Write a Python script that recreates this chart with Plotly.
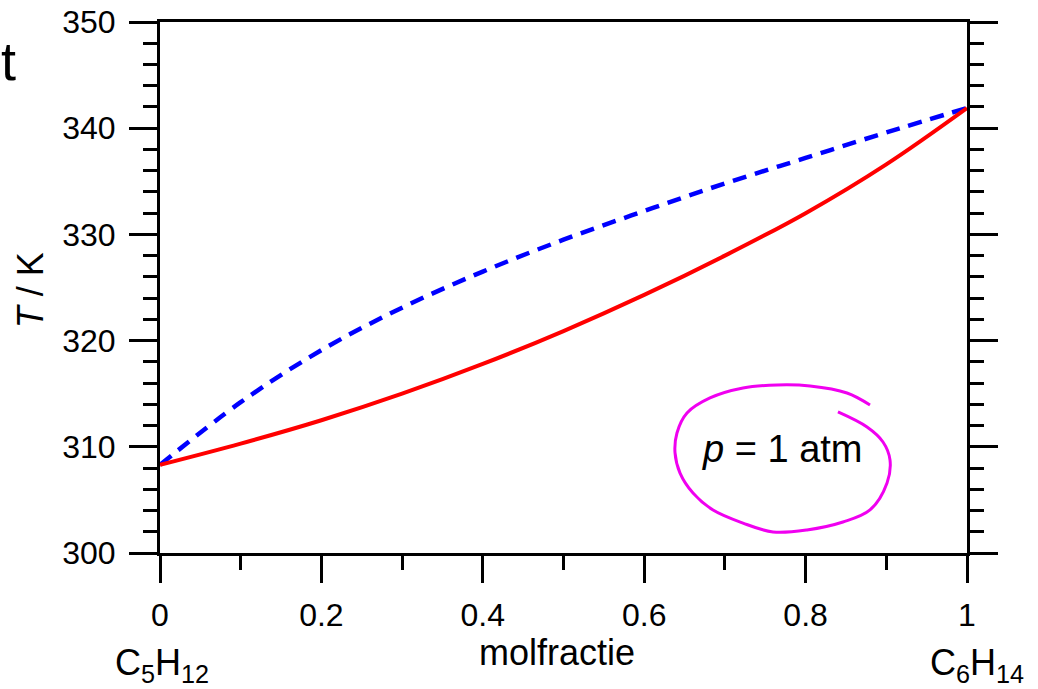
import plotly.graph_objects as go

# Data
x_frac = [0.0, 0.1, 0.2, 0.3, 0.4, 0.5, 0.6, 0.7, 0.8, 0.9, 1.0]
T_liquid = [308.3, 310.3, 312.5, 315.0, 317.8, 320.9, 324.3, 328.0, 332.0, 336.6, 341.9]
T_vapour = [308.3, 314.2, 319.1, 323.1, 326.5, 329.5, 332.2, 334.8, 337.2, 339.6, 341.9]

x_ticks = [0, 0.2, 0.4, 0.6, 0.8, 1]
x_ticktext = ["0", "0.2", "0.4", "0.6", "0.8", "1"]
y_ticks = [300, 310, 320, 330, 340, 350]

# Hand-drawn loop around the pressure label (data coordinates)
loop_x = [0.8798, 0.8513, 0.8055, 0.7646, 0.7224, 0.6815, 0.6530, 0.6406, 0.6382, 0.6444,
          0.6605, 0.6853, 0.7224, 0.7596, 0.8017, 0.8463, 0.8798, 0.9009, 0.9046, 0.8959,
          0.8761, 0.8401]
loop_T = [313.94, 315.07, 315.73, 315.82, 315.54, 314.60, 313.18, 311.30, 309.42, 307.53,
          305.65, 304.05, 302.82, 301.98, 302.17, 302.92, 304.05, 306.59, 308.76, 310.45,
          311.86, 313.28]

FONT = "Arial, Liberation Sans, sans-serif"

fig = go.Figure()
fig.add_trace(go.Scatter(x=x_frac, y=T_vapour, mode="lines", line_shape="spline",
                         line=dict(color="#0000ff", width=4.5, dash="14px,9px"),
                         showlegend=False, hoverinfo="skip"))
fig.add_trace(go.Scatter(x=x_frac, y=T_liquid, mode="lines", line_shape="spline",
                         line=dict(color="#ff0000", width=4),
                         showlegend=False, hoverinfo="skip"))
fig.add_trace(go.Scatter(x=loop_x, y=loop_T, mode="lines", line_shape="spline",
                         line=dict(color="#f000f0", width=3),
                         showlegend=False, hoverinfo="skip", cliponaxis=False))

fig.update_layout(
    width=1038, height=689,
    margin=dict(l=160, r=71, t=22, b=136, autoexpand=False),
    paper_bgcolor="white", plot_bgcolor="white",
    font=dict(family=FONT, size=32, color="black"),
    xaxis=dict(range=[0, 1], tickvals=x_ticks, ticktext=x_ticktext,
               showgrid=False, zeroline=False, automargin=False,
               showline=True, linecolor="black", linewidth=3, mirror=True,
               ticks="outside", ticklen=27, tickwidth=3, tickcolor="black",
               ticklabelstandoff=5, tickfont=dict(size=32), ticklabeloverflow="allow",
               minor=dict(dtick=0.1, ticks="outside", ticklen=14, tickwidth=3,
                          tickcolor="black", showgrid=False)),
    yaxis=dict(range=[300, 350], tickvals=y_ticks,
               showgrid=False, zeroline=False, automargin=False,
               showline=True, linecolor="black", linewidth=3, mirror="ticks",
               ticks="outside", ticklen=28, tickwidth=3, tickcolor="black",
               ticklabelstandoff=7, tickfont=dict(size=32), ticklabeloverflow="allow",
               minor=dict(dtick=2, ticks="outside", ticklen=14, tickwidth=3,
                          tickcolor="black", showgrid=False)),
    annotations=[
        dict(text="<i>T</i> / K", xref="paper", yref="paper", x=0, y=0.495,
             xshift=-130, xanchor="center", yanchor="middle", textangle=-90,
             showarrow=False, font=dict(size=36)),
        dict(text="molfractie", xref="paper", yref="paper", x=0.492, y=0,
             yshift=-99, xanchor="center", yanchor="middle",
             showarrow=False, font=dict(size=36)),
        dict(text="C<sub>5</sub>H<sub>12</sub>", xref="paper", yref="paper", x=0.0025, y=0,
             yshift=-112, xanchor="center", yanchor="middle",
             showarrow=False, font=dict(size=36)),
        dict(text="C<sub>6</sub>H<sub>14</sub>", xref="paper", yref="paper", x=1.0124, y=0,
             yshift=-112, xanchor="center", yanchor="middle",
             showarrow=False, font=dict(size=36)),
        dict(text="<i>p</i> = 1 atm", xref="x", yref="y", x=0.7704, y=309.8,
             xanchor="center", yanchor="middle",
             showarrow=False, font=dict(size=38)),
        dict(text="t", xref="paper", yref="paper", x=0, y=1, xshift=-151.5, yshift=-39,
             xanchor="center", yanchor="middle", showarrow=False, font=dict(size=54)),
    ],
)

fig.write_html("out.html", config={"displayModeBar": False},
               post_script="document.body.style.margin='0';document.body.style.padding='0';")
